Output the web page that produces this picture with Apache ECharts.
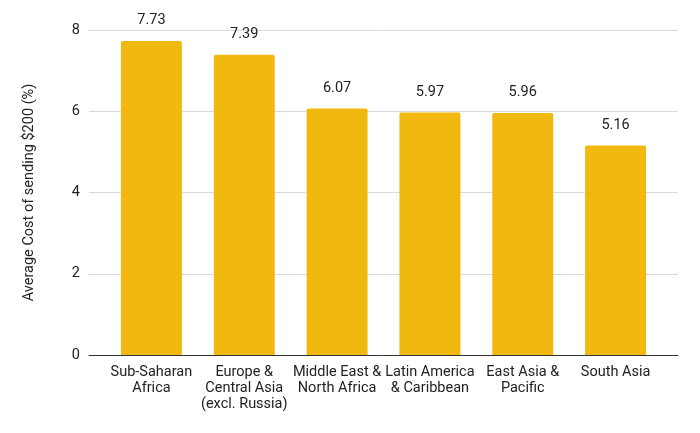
<!DOCTYPE html>
<html><head><meta charset="utf-8">
<script src="https://cdn.jsdelivr.net/npm/echarts@6/dist/echarts.min.js"></script>
<style>html,body{margin:0;padding:0;background:#fff}#c{width:700px;height:433px}</style>
</head><body><div id="c"></div>
<script>
const categories = ["Sub-Saharan\nAfrica", "Europe &\nCentral Asia\n(excl. Russia)", "Middle East &\nNorth Africa", "Latin America\n& Caribbean", "East Asia &\nPacific", "South Asia"];
const values = [7.73, 7.39, 6.07, 5.97, 5.96, 5.16];
const yTicks = [0, 2, 4, 6, 8];

const yMin = yTicks[0], yMax = yTicks[yTicks.length - 1];
const chart = echarts.init(document.getElementById('c'));
chart.setOption({
  animation: false,
  textStyle: {fontFamily: 'Roboto'},
  grid: [
    {left: 89, right: 22, top: 30, bottom: 78},
    {left: 105, right: 38, top: 30, bottom: 78}
  ],
  xAxis: [
    {
      gridIndex: 0, type: 'category', data: [''],
      axisLine: {lineStyle: {color: '#333', width: 1}},
      axisTick: {show: false}, axisLabel: {show: false}
    },
    {
      gridIndex: 1, type: 'category', data: categories,
      axisLine: {show: false},
      axisTick: {show: false},
      axisLabel: {color: '#222', fontSize: 14.5, lineHeight: 16, margin: 9, interval: 0}
    }
  ],
  yAxis: [
    {
      gridIndex: 0, type: 'value', min: yMin, max: yMax, interval: 2,
      name: 'Average Cost of sending $200 (%)', nameLocation: 'middle', nameGap: 52,
      nameTextStyle: {color: '#222', fontSize: 14.5},
      axisLine: {show: false}, axisTick: {show: false},
      axisLabel: {color: '#222', fontSize: 14.5, margin: 9},
      splitLine: {lineStyle: {color: '#d9d9d9'}}
    },
    {
      gridIndex: 1, type: 'value', min: yMin, max: yMax, interval: 2,
      show: false, splitLine: {show: false}
    }
  ],
  series: [{
    type: 'bar', xAxisIndex: 1, yAxisIndex: 1, data: values, barWidth: '65.7%',
    itemStyle: {color: '#F1B90F', borderRadius: [2,2,0,0]},
    label: {show: true, position: 'top', distance: 13, color: '#222', fontSize: 14.5,
      formatter: p => p.value.toFixed(2)}
  }]
});
</script></body></html>
